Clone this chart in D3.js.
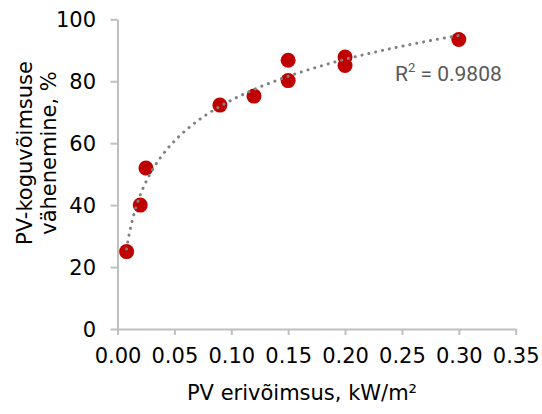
<!DOCTYPE html>
<html>
<head>
<meta charset="utf-8">
<script src="https://cdn.jsdelivr.net/npm/d3@7"></script>
<style>
  html, body { margin: 0; padding: 0; background: #fff; }
  svg { display: block; }
</style>
</head>
<body>
<svg id="chart" width="542" height="414"></svg>
<script>
// Measured specific PV power (kW/m²) and reduction of total PV capacity (%)
const powerDensity = [0.008, 0.02, 0.025, 0.09, 0.12, 0.15, 0.15, 0.2, 0.2, 0.3];
const capacityReduction = [25, 40, 52, 72.3, 75.2, 80.2, 86.8, 85.1, 87.8, 93.5];
const xTicks = [0, 0.05, 0.1, 0.15, 0.2, 0.25, 0.3, 0.35];
const yTicks = [0, 20, 40, 60, 80, 100];
const rSquaredLabel = "0.9808";

const svg = d3.select("#chart");
const plotLeft = 117.5, plotRight = 515.7, plotTop = 19.3, plotBottom = 329;

const x = d3.scaleLinear().domain([0, 0.35]).range([plotLeft, plotRight]);
const y = d3.scaleLinear().domain([0, 100]).range([plotBottom, plotTop]);

const axisColor = "#bfbfbf";
const font = "'DejaVu Sans', Verdana, sans-serif";

// Y axis
const gy = svg.append("g")
  .attr("transform", `translate(${plotLeft},0)`)
  .call(d3.axisLeft(y).tickValues(yTicks).tickSize(7).tickSizeOuter(0).tickFormat(d3.format("d")));
gy.select(".domain").attr("stroke", axisColor).attr("stroke-width", 2);
gy.selectAll(".tick line").attr("stroke", axisColor).attr("stroke-width", 2);
gy.selectAll(".tick text")
  .attr("x", -21.5).attr("dy", "0.36em")
  .attr("fill", "#000").style("font-family", font).style("font-size", "21px");

// X axis
const gx = svg.append("g")
  .attr("transform", `translate(0,${plotBottom})`)
  .call(d3.axisBottom(x).tickValues(xTicks).tickSize(6).tickSizeOuter(0).tickFormat(d3.format(".2f")));
gx.select(".domain").attr("stroke", axisColor).attr("stroke-width", 2);
gx.selectAll(".tick line").attr("stroke", axisColor).attr("stroke-width", 2);
gx.selectAll(".tick text")
  .attr("y", 34.3).attr("dy", 0)
  .attr("fill", "#000").style("font-family", font).style("font-size", "21px");

// Axis titles
svg.append("text")
  .attr("x", 302).attr("y", 400)
  .attr("text-anchor", "middle")
  .style("font-family", font).style("font-size", "21px").attr("fill", "#000")
  .text("PV erivõimsus, kW/m²");

const yTitle = svg.append("text")
  .attr("transform", "translate(0,153) rotate(-90)")
  .attr("text-anchor", "middle")
  .style("font-family", font).style("font-size", "21px").attr("fill", "#000");
yTitle.append("tspan").attr("x", 0).attr("y", 31.5).text("PV-koguvõimsuse");
yTitle.append("tspan").attr("x", 0).attr("y", 55.5).text("vähenemine, %");

// Data points
svg.append("g").selectAll("circle")
  .data(powerDensity.map((d, i) => [d, capacityReduction[i]]))
  .join("circle")
  .attr("cx", d => x(d[0]))
  .attr("cy", d => y(d[1]))
  .attr("r", 7.5)
  .attr("fill", "#c00000");

// Logarithmic least-squares trendline y = a·ln(x) + b
const lx = powerDensity.map(Math.log);
const n = lx.length;
const mx = d3.mean(lx), my = d3.mean(capacityReduction);
let sxy = 0, sxx = 0;
for (let i = 0; i < n; i++) {
  sxy += (lx[i] - mx) * (capacityReduction[i] - my);
  sxx += (lx[i] - mx) ** 2;
}
const a = sxy / sxx, b = my - a * mx;
const [x0, x1] = d3.extent(powerDensity);
const trendPts = d3.range(0, 201).map(i => {
  const xv = x0 * Math.pow(x1 / x0, i / 200);
  return [xv, a * Math.log(xv) + b];
});
svg.append("path")
  .datum(trendPts)
  .attr("d", d3.line().x(d => x(d[0])).y(d => y(d[1])))
  .attr("fill", "none")
  .attr("stroke", "#808080")
  .attr("stroke-width", 3)
  .attr("stroke-linecap", "round")
  .attr("stroke-dasharray", "0.1 6.9");

// R² annotation
const rText = svg.append("text")
  .attr("x", 395).attr("y", 80.7)
  .style("font-family", "Roboto, 'Open Sans', sans-serif").style("font-size", "21px")
  .attr("fill", "#595959");
rText.append("tspan").text("R");
rText.append("tspan").attr("dy", -9).style("font-size", "13px").text("2");
rText.append("tspan").attr("dy", 9).text(" = " + rSquaredLabel);
</script>
</body>
</html>
